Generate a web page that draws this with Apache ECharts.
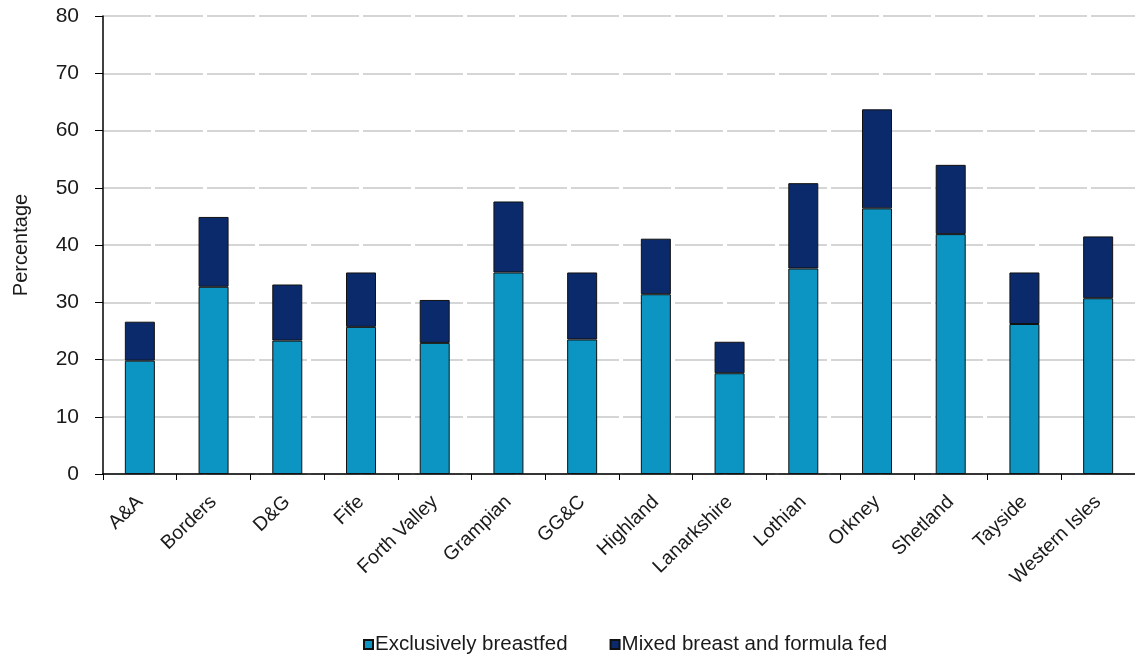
<!DOCTYPE html>
<html>
<head>
<meta charset="utf-8">
<script src="https://cdn.jsdelivr.net/npm/echarts@6/dist/echarts.min.js"></script>
<style>html,body{margin:0;padding:0;background:#fff}#c{width:1135px;height:661px}</style>
</head>
<body>
<div id="c"></div>
<script>
const categories = ['A&A','Borders','D&G','Fife','Forth Valley','Grampian','GG&C','Highland','Lanarkshire','Lothian','Orkney','Shetland','Tayside','Western Isles'];
const exclusive = [19.8, 32.7, 23.3, 25.7, 22.9, 35.2, 23.5, 31.4, 17.6, 35.9, 46.4, 41.9, 26.2, 30.7];
const mixed = [6.8, 12.2, 9.8, 9.5, 7.5, 12.4, 11.7, 9.7, 5.5, 14.9, 17.3, 12.1, 9.0, 10.8];
const yTicks = [0, 10, 20, 30, 40, 50, 60, 70, 80];

const font = '"Liberation Sans", Arial, sans-serif';
const chart = echarts.init(document.getElementById('c'));
chart.setOption({
  animation: false,
  backgroundColor: '#fff',
  grid: { left: 103, right: 0, top: 16, bottom: 187, containLabel: false },
  legend: {
    bottom: 1,
    left: 358,
    itemWidth: 9, itemHeight: 9, itemGap: 42,
    icon: 'rect',
    textStyle: { fontFamily: font, fontSize: 20.5, color: '#1a1a1a', padding: [0, 0, 0, -3] },
    data: ['Exclusively breastfed', 'Mixed breast and formula fed']
  },
  xAxis: {
    type: 'category',
    data: categories,
    axisLine: { lineStyle: { color: '#000', width: 1.5 } },
    axisTick: { show: true, length: 6, lineStyle: { color: '#000' } },
    axisLabel: { rotate: 44, fontFamily: font, fontSize: 19.5, color: '#1a1a1a', margin: 25, interval: 0 }
  },
  yAxis: {
    type: 'value',
    min: yTicks[0], max: yTicks[yTicks.length - 1], interval: 10,
    name: 'Percentage',
    nameLocation: 'middle',
    nameGap: 72,
    nameTextStyle: { fontFamily: font, fontSize: 20, color: '#1a1a1a' },
    axisLine: { show: true, lineStyle: { color: '#000', width: 1.5 } },
    axisTick: { show: true, length: 8, lineStyle: { color: '#000' } },
    axisLabel: { fontFamily: font, fontSize: 21, color: '#1a1a1a', margin: 24 },
    splitLine: { show: true, lineStyle: { color: '#c8c8c8', type: [48, 4], width: 1.5 } }
  },
  series: [
    {
      name: 'Exclusively breastfed', type: 'bar', stack: 'a', data: exclusive,
      barWidth: 30,
      itemStyle: { color: '#0c95c2', borderColor: '#111', borderWidth: 1 }
    },
    {
      name: 'Mixed breast and formula fed', type: 'bar', stack: 'a', data: mixed,
      barWidth: 30,
      itemStyle: { color: '#0b2a6b', borderColor: '#111', borderWidth: 1 }
    }
  ]
});
</script>
</body>
</html>
